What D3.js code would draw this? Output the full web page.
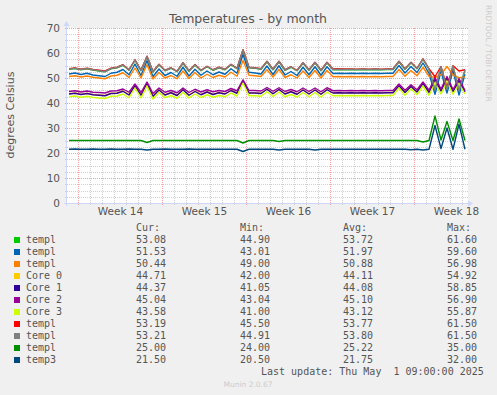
<!DOCTYPE html>
<html>
<head>
<meta charset="utf-8">
<script src="https://cdn.jsdelivr.net/npm/d3@7"></script>
<style>
  body { margin: 0; background: #f0f0f0; }
  svg { display: block; font-family: "DejaVu Sans", sans-serif; }
</style>
</head>
<body>
<svg id="chart" width="497" height="395"></svg>
<script>
// samples every 12 hours starting Sun Mar 30 2025 06:00
const firstSample = Date.UTC(2025, 2, 30, 6);
const sampleHours = 12;

const templGreen = [53.5, 53.8, 53.3, 53.7, 53.2, 52.8, 52.5, 53.7, 54.1, 55.1, 53.1, 57.1, 52.9, 58.5, 52.4, 55.3, 52.9, 53.9, 52.5, 55.9, 52.7, 55.2, 52.9, 54.5, 53.1, 54.1, 53.3, 55.3, 53.7, 61.1, 54.1, 53.9, 53.5, 56.5, 53.3, 56.5, 53.1, 54.3, 52.9, 55.9, 53.1, 56.1, 52.9, 56.1, 53.3, 53.4, 53.3, 53.4, 53.3, 53.4, 53.3, 53.4, 53.3, 53.4, 53.4, 56.5, 53.5, 56.1, 53.7, 57.5, 53.5, 45.0, 54.4, 45.4, 54.7, 44.9, 53.1];
const templBlue = [51.6, 52.0, 51.4, 51.9, 51.2, 50.9, 50.6, 51.9, 52.3, 53.4, 51.3, 55.6, 51.0, 56.9, 50.6, 53.6, 51.0, 52.2, 50.7, 54.3, 50.8, 53.5, 51.1, 52.8, 51.3, 52.4, 51.5, 53.7, 51.9, 59.4, 52.3, 52.0, 51.6, 54.8, 51.4, 54.9, 51.2, 52.6, 51.0, 54.3, 51.3, 54.5, 51.1, 54.5, 51.8, 51.9, 51.8, 51.9, 51.8, 51.9, 51.8, 51.9, 51.8, 51.9, 51.9, 55.0, 52.0, 54.6, 52.2, 56.0, 51.9, 43.5, 52.6, 44.0, 53.0, 43.2, 51.5];
const templOrange = [50.6, 50.9, 50.4, 50.8, 50.3, 50.0, 49.7, 50.8, 51.1, 52.1, 50.2, 54.0, 50.0, 55.3, 49.6, 52.2, 50.0, 51.0, 49.7, 52.8, 49.8, 52.2, 50.0, 51.5, 50.2, 51.1, 50.4, 52.3, 50.7, 57.0, 51.1, 50.9, 50.6, 53.3, 50.4, 53.4, 50.2, 51.3, 50.0, 52.8, 50.2, 53.0, 50.0, 53.0, 50.5, 50.6, 50.5, 50.6, 50.5, 50.6, 50.5, 50.6, 50.5, 50.6, 50.6, 53.4, 50.7, 53.0, 50.9, 54.3, 50.7, 50.2, 51.4, 54.6, 51.2, 50.1, 50.4];
const core0 = [43.7, 44.0, 43.5, 43.9, 43.4, 43.2, 43.0, 43.9, 44.0, 44.9, 43.3, 47.0, 43.2, 47.9, 42.8, 45.4, 43.3, 44.2, 43.1, 45.5, 43.2, 44.8, 43.4, 44.5, 43.5, 44.2, 43.7, 45.2, 44.0, 48.9, 44.1, 44.1, 43.9, 45.6, 43.8, 45.5, 43.7, 44.6, 43.6, 45.3, 43.7, 45.3, 43.6, 45.4, 44.1, 44.2, 44.1, 44.2, 44.1, 44.2, 44.1, 44.2, 44.1, 44.2, 44.2, 47.0, 44.3, 46.7, 44.5, 47.9, 44.3, 48.8, 44.9, 49.6, 44.7, 48.5, 44.7];
const core1 = [43.6, 43.9, 43.4, 43.8, 43.3, 43.1, 42.9, 43.8, 43.9, 44.7, 43.2, 46.9, 43.1, 47.8, 42.7, 45.2, 43.2, 44.1, 43.0, 45.3, 43.1, 44.6, 43.3, 44.4, 43.4, 44.1, 43.6, 45.0, 43.9, 48.8, 44.0, 44.0, 43.8, 45.5, 43.7, 45.4, 43.6, 44.5, 43.5, 45.2, 43.6, 45.2, 43.5, 45.3, 44.0, 44.1, 44.0, 44.1, 44.0, 44.1, 44.0, 44.1, 44.0, 44.1, 44.1, 46.9, 44.2, 46.6, 44.4, 47.8, 44.2, 49.5, 44.8, 50.2, 44.6, 49.0, 44.4];
const core2 = [44.6, 44.9, 44.4, 44.8, 44.3, 44.2, 44.0, 44.8, 44.9, 45.6, 44.3, 47.6, 44.2, 48.4, 43.8, 46.0, 44.3, 45.0, 44.1, 46.0, 44.2, 45.5, 44.4, 45.3, 44.5, 45.0, 44.6, 45.8, 44.9, 49.3, 45.0, 45.0, 44.8, 46.2, 44.7, 46.1, 44.6, 45.4, 44.5, 46.0, 44.6, 46.0, 44.5, 46.1, 44.9, 45.0, 44.9, 45.0, 44.9, 45.0, 44.9, 45.0, 44.9, 45.0, 45.0, 47.6, 45.1, 47.3, 45.3, 48.4, 45.1, 50.2, 45.6, 50.6, 45.4, 49.8, 45.0];
const core3 = [42.5, 42.8, 42.3, 42.7, 42.2, 42.0, 41.8, 42.7, 42.8, 43.6, 42.1, 46.0, 42.0, 46.8, 41.6, 44.2, 42.1, 43.0, 41.9, 44.3, 42.0, 43.6, 42.2, 43.3, 42.3, 43.0, 42.5, 44.0, 42.8, 48.0, 42.9, 42.9, 42.7, 44.5, 42.6, 44.4, 42.5, 43.4, 42.4, 44.2, 42.5, 44.2, 42.4, 44.3, 42.9, 43.0, 42.9, 43.0, 42.9, 43.0, 42.9, 43.0, 42.9, 43.0, 43.0, 46.0, 43.1, 45.7, 43.3, 46.8, 43.1, 47.8, 43.6, 48.4, 43.5, 47.6, 43.6];
const templRed = [53.7, 54.0, 53.5, 53.9, 53.4, 53.1, 52.8, 53.9, 54.3, 55.3, 53.3, 57.3, 53.1, 58.7, 52.6, 55.5, 53.1, 54.1, 52.7, 56.1, 52.9, 55.4, 53.1, 54.7, 53.3, 54.3, 53.5, 55.5, 53.9, 61.3, 54.3, 54.1, 53.7, 56.7, 53.5, 56.7, 53.3, 54.5, 53.1, 56.1, 53.3, 56.3, 53.1, 56.3, 53.6, 53.7, 53.6, 53.6, 53.5, 53.6, 53.5, 53.6, 53.5, 53.6, 53.6, 56.7, 53.7, 56.3, 53.9, 57.7, 53.7, 50.5, 54.6, 46.0, 54.9, 52.8, 53.3];
const templGray = [53.6, 53.9, 53.4, 53.8, 53.3, 52.9, 52.6, 53.8, 54.2, 55.2, 53.2, 57.2, 53.0, 58.6, 52.5, 55.4, 53.0, 54.0, 52.6, 56.0, 52.8, 55.3, 53.0, 54.6, 53.2, 54.2, 53.4, 55.4, 53.8, 61.2, 54.2, 54.0, 53.6, 56.6, 53.4, 56.6, 53.2, 54.4, 53.0, 56.0, 53.2, 56.2, 53.0, 56.2, 53.4, 53.5, 53.4, 53.5, 53.4, 53.5, 53.4, 53.5, 53.4, 53.5, 53.5, 56.6, 53.6, 56.2, 53.8, 57.6, 53.6, 45.2, 54.5, 45.5, 54.8, 45.0, 53.2];
const templDarkGreen = [25.0, 25.0, 25.0, 25.0, 25.0, 25.0, 25.0, 25.0, 25.0, 25.0, 25.0, 25.0, 25.0, 24.2, 25.0, 25.0, 25.0, 25.0, 25.0, 25.0, 25.0, 25.0, 25.0, 25.0, 25.0, 25.0, 25.0, 25.0, 25.0, 24.0, 25.0, 25.0, 25.0, 25.0, 25.0, 24.6, 25.0, 25.0, 25.0, 25.0, 25.0, 25.0, 25.0, 25.0, 25.0, 25.0, 25.0, 25.0, 25.0, 25.0, 25.0, 25.0, 25.0, 25.0, 25.0, 25.0, 25.0, 25.0, 25.0, 24.4, 25.0, 34.8, 25.2, 32.6, 25.0, 33.6, 25.0];
const temp3 = [21.5, 21.6, 21.5, 21.5, 21.6, 21.5, 21.5, 21.6, 21.5, 21.5, 21.6, 21.5, 21.5, 21.2, 21.5, 21.5, 21.6, 21.5, 21.5, 21.5, 21.6, 21.5, 21.5, 21.5, 21.5, 21.5, 21.5, 21.5, 21.5, 20.6, 21.5, 21.5, 21.5, 21.5, 21.5, 21.2, 21.5, 21.5, 21.5, 21.5, 21.5, 21.2, 21.5, 21.5, 21.5, 21.5, 21.5, 21.5, 21.5, 21.5, 21.5, 21.5, 21.5, 21.5, 21.5, 21.5, 21.5, 21.3, 21.5, 21.2, 21.5, 31.0, 21.8, 30.0, 21.5, 31.5, 21.5];

const seriesNames = ["templ", "templ", "templ", "Core 0", "Core 1", "Core 2", "Core 3", "templ", "templ", "templ", "temp3"];
const seriesColors = ["#00cc00", "#0066b3", "#ff8000", "#ffcc00", "#330099", "#990099", "#ccff00", "#ff0000", "#808080", "#008f00", "#00487d"];
const seriesValues = [templGreen, templBlue, templOrange, core0, core1, core2, core3, templRed, templGray, templDarkGreen, temp3];

const curValues = ["53.08", "51.53", "50.44", "44.71", "44.37", "45.04", "43.58", "53.19", "53.21", "25.00", "21.50"];
const minValues = ["44.90", "43.01", "49.00", "42.00", "41.05", "43.04", "41.00", "45.50", "44.91", "24.00", "20.50"];
const avgValues = ["53.72", "51.97", "50.88", "44.11", "44.08", "45.10", "43.12", "53.77", "53.80", "25.22", "21.75"];
const maxValues = ["61.60", "59.60", "56.98", "54.92", "58.85", "56.90", "55.87", "61.50", "61.50", "35.00", "32.00"];

const yTicks = [0, 10, 20, 30, 40, 50, 60, 70];
const titleText = "Temperatures - by month";
const yLabel = "degrees Celsius";
const lastUpdate = "Last update: Thu May  1 09:00:00 2025";

const svg = d3.select("#chart");
const plot = { left: 67, right: 468, top: 28, bottom: 203 };

const x = d3.scaleUtc()
  .domain([new Date(Date.UTC(2025, 2, 30, 2)), new Date(Date.UTC(2025, 4, 2, 12))])
  .range([plot.left, plot.right]);
const y = d3.scaleLinear().domain([0, 70]).range([plot.bottom, plot.top]);

const sampleTime = (i) => new Date(firstSample + i * sampleHours * 3600 * 1000);

// canvas
svg.append("rect")
  .attr("x", plot.left).attr("y", plot.top)
  .attr("width", plot.right - plot.left).attr("height", plot.bottom - plot.top)
  .attr("fill", "#ffffff");

// grid
const grid = svg.append("g").attr("shape-rendering", "crispEdges");
const minorY = d3.range(0, 70.1, 2.5).filter((v) => v % 10 !== 0);
const days = d3.utcDay.range(x.domain()[0], x.domain()[1]);
const weeks = d3.utcMonday.range(x.domain()[0], x.domain()[1]);
const minorDays = days.filter((d) => d.getUTCDay() !== 1);

grid.selectAll(".hminor").data(minorY).enter().append("line")
  .attr("x1", plot.left - 2).attr("x2", plot.right)
  .attr("y1", (d) => Math.round(y(d)) + 0.5).attr("y2", (d) => Math.round(y(d)) + 0.5)
  .attr("stroke", "#d0d0d0").attr("stroke-dasharray", "1,1");
grid.selectAll(".vminor").data(minorDays).enter().append("line")
  .attr("x1", (d) => Math.round(x(d)) + 0.5).attr("x2", (d) => Math.round(x(d)) + 0.5)
  .attr("y1", plot.top).attr("y2", plot.bottom + 2)
  .attr("stroke", "#d0d0d0").attr("stroke-dasharray", "1,1");
grid.selectAll(".hmajor").data(yTicks).enter().append("line")
  .attr("x1", plot.left - 2).attr("x2", plot.right)
  .attr("y1", (d) => Math.round(y(d)) + 0.5).attr("y2", (d) => Math.round(y(d)) + 0.5)
  .attr("stroke", "#f0a0a0").attr("stroke-dasharray", "1,1");
grid.selectAll(".vmajor").data(weeks).enter().append("line")
  .attr("x1", (d) => Math.round(x(d)) + 0.5).attr("x2", (d) => Math.round(x(d)) + 0.5)
  .attr("y1", plot.top).attr("y2", plot.bottom + 2)
  .attr("stroke", "#f0a0a0").attr("stroke-dasharray", "1,1");

// series
const line = d3.line()
  .x((d, i) => x(sampleTime(i)))
  .y((d) => y(d));

svg.append("g").selectAll("path")
  .data(seriesValues)
  .enter()
  .append("path")
  .attr("d", line)
  .attr("fill", "none")
  .attr("stroke", (d, i) => seriesColors[i])
  .attr("stroke-width", 1.4)
  .attr("stroke-linejoin", "round");

// axes lines with arrows
const axisColor = "#cfd6f8";
svg.append("line")
  .attr("x1", plot.left - 0.5).attr("x2", plot.left - 0.5)
  .attr("y1", plot.bottom + 3).attr("y2", plot.top - 5)
  .attr("stroke", axisColor);
svg.append("path")
  .attr("d", `M${plot.left - 3.5},${plot.top - 2}L${plot.left + 2.5},${plot.top - 2}L${plot.left - 0.5},${plot.top - 7}Z`)
  .attr("fill", axisColor);
svg.append("line")
  .attr("x1", plot.left - 3).attr("x2", plot.right + 2)
  .attr("y1", plot.bottom + 0.5).attr("y2", plot.bottom + 0.5)
  .attr("stroke", axisColor);
svg.append("path")
  .attr("d", `M${plot.right},${plot.bottom - 2.5}L${plot.right},${plot.bottom + 3.5}L${plot.right + 5},${plot.bottom + 0.5}Z`)
  .attr("fill", axisColor);

// tick labels
const yAxis = svg.append("g")
  .attr("transform", `translate(${plot.left},0)`)
  .call(d3.axisLeft(y).tickValues(yTicks).tickSize(0).tickPadding(7));
yAxis.select(".domain").remove();
yAxis.selectAll("text")
  .attr("font-family", "DejaVu Sans").attr("font-size", 10.5).attr("fill", "#555");

const weekLabelTimes = weeks.map((d) => d3.utcHour.offset(d, 84));
const xAxis = svg.append("g")
  .attr("transform", `translate(0,${plot.bottom})`)
  .call(d3.axisBottom(x).tickValues(weekLabelTimes).tickSize(0).tickPadding(5)
    .tickFormat((d) => "Week " + d3.utcFormat("%V")(d)));
xAxis.select(".domain").remove();
xAxis.selectAll("text")
  .attr("font-family", "DejaVu Sans").attr("font-size", 10.5).attr("fill", "#555");

// title and side texts
svg.append("text")
  .attr("x", 248).attr("y", 23)
  .attr("text-anchor", "middle")
  .attr("font-size", 12.5).attr("fill", "#555")
  .text(titleText);

svg.append("text")
  .attr("transform", "translate(14,115) rotate(-90)")
  .attr("text-anchor", "middle")
  .attr("font-size", 11).attr("fill", "#555")
  .text(yLabel);

svg.append("text")
  .attr("transform", "translate(486,5) rotate(90)")
  .attr("font-size", 7.5).attr("fill", "#cccccc")
  .text("RRDTOOL / TOBI OETIKER");

// legend
const legend = svg.append("g")
  .attr("font-family", "DejaVu Sans Mono")
  .attr("font-size", 10)
  .attr("fill", "#555");
const colX = [136, 240, 343, 447];
["Cur:", "Min:", "Avg:", "Max:"].forEach((h, k) => {
  legend.append("text").attr("x", colX[k]).attr("y", 231).text(h);
});

const rows = legend.selectAll(".row")
  .data(seriesNames)
  .enter()
  .append("g")
  .attr("transform", (d, i) => `translate(0,${243 + i * 12})`);
rows.append("rect")
  .attr("x", 14).attr("y", -6).attr("width", 6).attr("height", 6)
  .attr("fill", (d, i) => seriesColors[i]);
rows.append("text").attr("x", 26).text((d) => d);
rows.append("text").attr("x", colX[0]).text((d, i) => curValues[i]);
rows.append("text").attr("x", colX[1]).text((d, i) => minValues[i]);
rows.append("text").attr("x", colX[2]).text((d, i) => avgValues[i]);
rows.append("text").attr("x", colX[3]).text((d, i) => maxValues[i]);

legend.append("text")
  .attr("x", 261).attr("y", 375)
  .attr("xml:space", "preserve")
  .style("white-space", "pre")
  .text(lastUpdate);

svg.append("text")
  .attr("x", 248).attr("y", 387)
  .attr("text-anchor", "middle")
  .attr("font-size", 7.5).attr("fill", "#cccccc")
  .text("Munin 2.0.67");
</script>
</body>
</html>
